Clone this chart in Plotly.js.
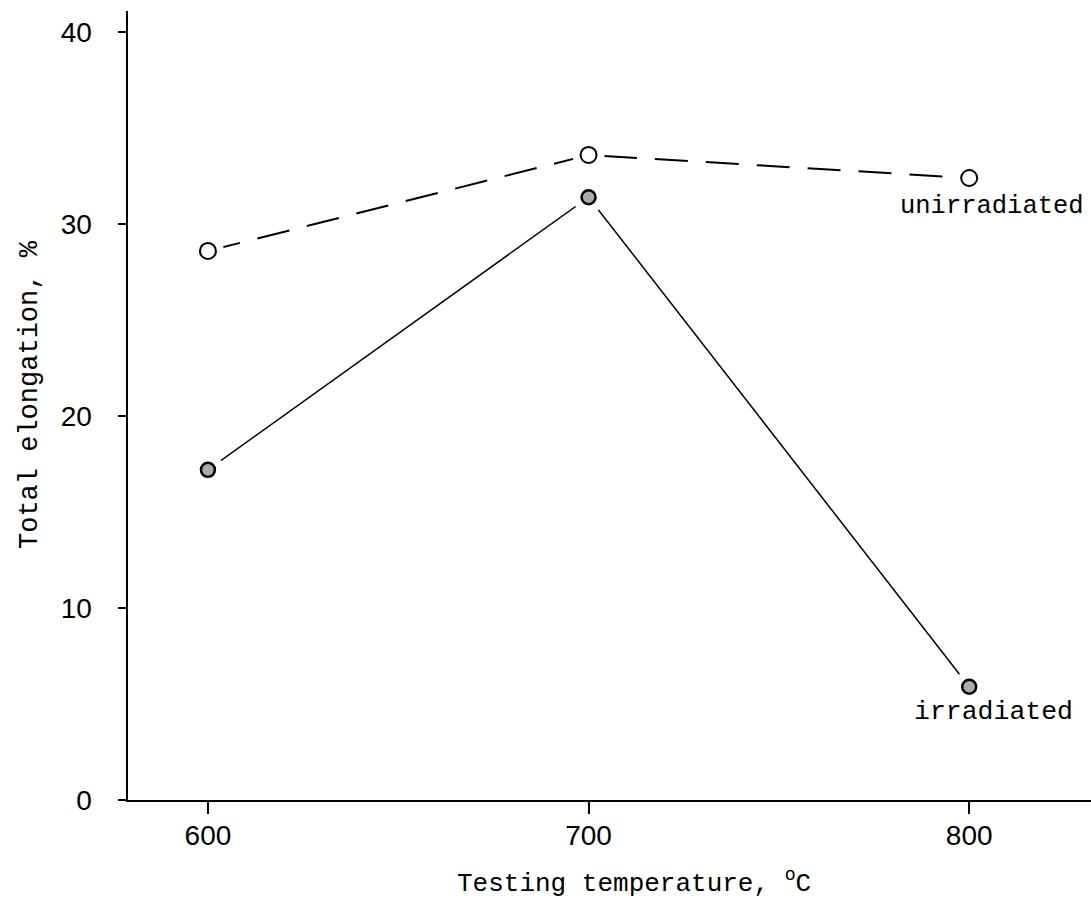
<!DOCTYPE html>
<html><head><meta charset="utf-8">
<script src="https://cdn.plot.ly/plotly-3.0.1.min.js"></script>
<style>html,body{margin:0;padding:0;background:#fff;}#chart{width:1091px;height:903px;}</style>
</head><body><div id="chart"></div>
<script>
const temperatures = [600, 700, 800];
const unirradiated = [28.6, 33.6, 32.4];
const irradiated = [17.2, 31.4, 5.9];
const xTicks = [600, 700, 800];
const yTicks = [0, 10, 20, 30, 40];
const yTickLabels = ['0', '10', '20', '30', '40'];
const xTitle = 'Testing temperature, <sup>o</sup>C';
const yTitle = 'Total elongation, %';

const mono = 'Liberation Mono, Courier New, monospace';
const sans = 'Liberation Sans, Arial, sans-serif';

const traces = [
  {x: temperatures, y: unirradiated, mode: 'lines', line: {color: '#000', width: 2, dash: '33px,18px'}, hoverinfo: 'skip', showlegend: false},
  {x: temperatures, y: irradiated, mode: 'lines', line: {color: '#000', width: 1.5}, hoverinfo: 'skip', showlegend: false},
  {x: temperatures.concat(temperatures), y: unirradiated.concat(irradiated), mode: 'markers', marker: {size: 32, color: '#fff', line: {width: 0}}, hoverinfo: 'skip', showlegend: false},
  {x: temperatures, y: unirradiated, mode: 'markers', name: 'unirradiated', marker: {symbol: 'circle', size: 16, color: '#fff', line: {color: '#000', width: 2}}, showlegend: false},
  {x: temperatures, y: irradiated, mode: 'markers', name: 'irradiated', marker: {symbol: 'circle', size: 14, color: '#aaa', line: {color: '#000', width: 2.5}}, showlegend: false}
];

const W = 1091, H = 903, ML = 128, MR = 0, MT = 11, MB = 103;
const pw = W - ML - MR, ph = H - MT - MB;
const px = v => (v - ML) / pw;
const py = v => (H - MB - v) / ph;

const layout = {
  width: W, height: H,
  margin: {l: ML, r: MR, t: MT, b: MB},
  paper_bgcolor: '#fff', plot_bgcolor: '#fff',
  showlegend: false,
  xaxis: {
    range: [579, 832], tickvals: xTicks, ticktext: xTicks.map(String),
    showline: true, linecolor: '#000', linewidth: 2, showgrid: false, zeroline: false,
    ticks: 'outside', ticklen: 12, tickwidth: 2, tickcolor: '#000',
    tickfont: {family: sans, size: 28, color: '#000'},
    ticklabelstandoff: -3
  },
  yaxis: {
    range: [0, 41.1], tickvals: yTicks, ticktext: yTickLabels,
    showline: true, linecolor: '#000', linewidth: 2.5, showgrid: false, zeroline: false,
    ticks: 'outside', ticklen: 8, tickwidth: 2, tickcolor: '#000',
    tickfont: {family: sans, size: 28, color: '#000'},
    ticklabelstandoff: 20
  },
  annotations: [
    {x: px(634), y: py(882), xref: 'paper', yref: 'paper', text: xTitle, showarrow: false, xanchor: 'center', yanchor: 'middle',
     font: {family: mono, size: 26, color: '#000'}},
    {x: px(30), y: py(395), xref: 'paper', yref: 'paper', text: yTitle, showarrow: false, textangle: -90, xanchor: 'center', yanchor: 'middle',
     font: {family: mono, size: 27, color: '#000'}},
    {x: temperatures[2], y: unirradiated[2], xref: 'x', yref: 'y', text: 'unirradiated', showarrow: false, xanchor: 'left', yanchor: 'middle', xshift: -71, yshift: -28, font: {family: mono, size: 25.5, color: '#000'}},
    {x: temperatures[2], y: irradiated[2], xref: 'x', yref: 'y', text: 'irradiated', showarrow: false, xanchor: 'left', yanchor: 'middle', xshift: -57, yshift: -25, font: {family: mono, size: 26.5, color: '#000'}}
  ]
};
Plotly.newPlot('chart', traces, layout, {displayModeBar: false, staticPlot: true});
</script></body></html>
